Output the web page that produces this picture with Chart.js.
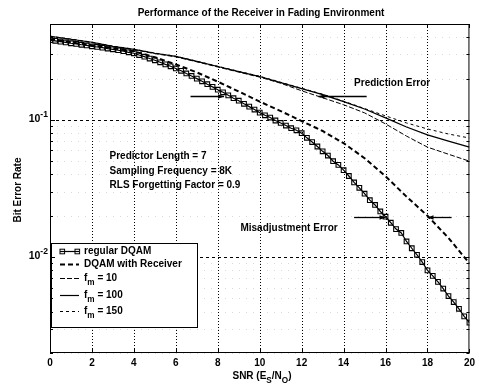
<!DOCTYPE html>
<html>
<head>
<meta charset="utf-8">
<script src="https://cdn.jsdelivr.net/npm/chart.js@4.4.0/dist/chart.umd.min.js"></script>
<style>
  html, body { margin: 0; padding: 0; background: #fff; }
  canvas { display: block; }
</style>
</head>
<body>
<canvas id="berChart" width="479" height="388"></canvas>
<script>
// ── Data ──────────────────────────────────────────────────────
const snrFine = [0, 0.25, 0.5, 0.75, 1, 1.25, 1.5, 1.75, 2, 2.25, 2.5, 2.75, 3, 3.25, 3.5, 3.75,
  4, 4.25, 4.5, 4.75, 5, 5.25, 5.5, 5.75, 6, 6.25, 6.5, 6.75, 7, 7.25, 7.5, 7.75,
  8, 8.25, 8.5, 8.75, 9, 9.25, 9.5, 9.75, 10, 10.25, 10.5, 10.75, 11, 11.25, 11.5, 11.75,
  12, 12.25, 12.5, 12.75, 13, 13.25, 13.5, 13.75, 14, 14.25, 14.5, 14.75, 15, 15.25, 15.5, 15.75,
  16, 16.25, 16.5, 16.75, 17, 17.25, 17.5, 17.75, 18, 18.25, 18.5, 18.75, 19, 19.25, 19.5, 19.75, 20];
const berRegular = [0.381, 0.377, 0.372, 0.367, 0.362, 0.358, 0.353, 0.349, 0.344, 0.340, 0.336, 0.331, 0.327, 0.322, 0.317, 0.311,
  0.306, 0.297, 0.289, 0.280, 0.272, 0.263, 0.254, 0.246, 0.237, 0.228, 0.218, 0.209, 0.200, 0.191, 0.182, 0.174,
  0.166, 0.159, 0.151, 0.144, 0.138, 0.131, 0.125, 0.119, 0.113, 0.108, 0.104, 0.099, 0.095, 0.091, 0.087, 0.084,
  0.080, 0.074, 0.069, 0.064, 0.059, 0.055, 0.050, 0.047, 0.043, 0.039, 0.035, 0.032, 0.029, 0.026, 0.024, 0.0215,
  0.0197, 0.0178, 0.0160, 0.0150, 0.0130, 0.0116, 0.0104, 0.0092, 0.0080, 0.0073, 0.0066, 0.0059, 0.0052, 0.0047, 0.0042, 0.0037, 0.00333];

const snrCoarse = [0, 1, 2, 3, 4, 5, 6, 7, 8, 9, 10, 11, 12, 13, 14, 15, 16, 17, 18, 19, 20];
const berReceiver = [0.387, 0.368, 0.350, 0.333, 0.316, 0.286, 0.254, 0.222, 0.190, 0.161, 0.136,
  0.116, 0.098, 0.083, 0.0677, 0.0526, 0.0388, 0.0276, 0.0200, 0.0138, 0.0090];
const berFm10 = [0.405, 0.385, 0.366, 0.342, 0.325, 0.304, 0.288, 0.265, 0.243, 0.223, 0.205,
  0.185, 0.163, 0.145, 0.129, 0.1125, 0.0935, 0.0762, 0.0633, 0.0562, 0.050];
const berFm100 = [0.407, 0.387, 0.368, 0.344, 0.327, 0.306, 0.290, 0.267, 0.245, 0.225, 0.207,
  0.187, 0.169, 0.153, 0.136, 0.120, 0.1035, 0.0888, 0.0777, 0.0701, 0.0633];
const berFm150 = [0.408, 0.388, 0.369, 0.345, 0.328, 0.307, 0.291, 0.268, 0.246, 0.226, 0.208,
  0.188, 0.170, 0.154, 0.137, 0.121, 0.107, 0.095, 0.0859, 0.0789, 0.0738];

const seriesNames = ['regular DQAM', 'DQAM with Receiver', 'f_{m} = 10', 'f_{m} = 100', 'f_{m} = 150'];
const xTicks = [0, 2, 4, 6, 8, 10, 12, 14, 16, 18, 20];
const yTicks = [0.002, 0.003, 0.004, 0.005, 0.006, 0.007, 0.008, 0.009, 0.01,
  0.02, 0.03, 0.04, 0.05, 0.06, 0.07, 0.08, 0.09, 0.1, 0.2, 0.3, 0.4, 0.5];
const yLabelValues = [0.01, 0.1];
const yLabelTexts = ['10^{-2}', '10^{-1}'];

const titleText = 'Performance of the Receiver in Fading Environment';
const xTitle = 'SNR (E_{S}/N_{O})';
const yTitle = 'Bit Error Rate';
const paramLines = ['Predictor Length = 7', 'Sampling Frequency = 8K', 'RLS Forgetting Factor = 0.9'];

// annotations, in data units
const notes = [
  { text: 'Prediction Error', x: 14.5, y: 0.184 },
  { text: 'Misadjustment Error', x: 9.08, y: 0.0163 },
  { text: paramLines, x: 2.84, y: 0.0543 }
];
const arrows = [
  { from: 6.7, to: 8.3, y: 0.150 },
  { from: 15.1, to: 12.8, y: 0.150 },
  { from: 14.5, to: 16.0, y: 0.0197 },
  { from: 19.15, to: 18.0, y: 0.0197 }
];

// ── Helpers ──────────────────────────────────────────
const FAMILY = '"Liberation Sans", Arial, sans-serif';
function drawRich(ctx, str, x, y, size, align) {
  const parts = [];
  const re = /([_^])\{([^}]*)\}|([^_^]+)/g;
  let m;
  while ((m = re.exec(str))) parts.push(m[3] !== undefined ? { t: m[3], k: '' } : { t: m[2], k: m[1] });
  let w = 0;
  parts.forEach(p => {
    p.s = p.k ? size * 0.82 : size;
    ctx.font = 'bold ' + p.s + 'px ' + FAMILY;
    p.w = ctx.measureText(p.t).width;
    w += p.w;
  });
  let cx = align === 'center' ? x - w / 2 : align === 'right' ? x - w : x;
  ctx.textAlign = 'left';
  ctx.textBaseline = 'middle';
  parts.forEach(p => {
    ctx.font = 'bold ' + p.s + 'px ' + FAMILY;
    const dy = p.k === '_' ? size * 0.5 : p.k === '^' ? -size * 0.4 : 0;
    ctx.fillText(p.t, cx, y + dy);
    cx += p.w;
  });
}
function seg(ctx, x1, y1, x2, y2) {
  ctx.beginPath(); ctx.moveTo(x1, y1); ctx.lineTo(x2, y2); ctx.stroke();
}

// ── MATLAB-style axes, annotations and legend ─────────────────
const matlabPlugin = {
  id: 'matlab',
  beforeDatasetsDraw(chart) {
    const { ctx, chartArea: a, scales: { x, y } } = chart;
    ctx.save();
    ctx.lineWidth = 1;
    ctx.strokeStyle = '#000';
    ctx.setLineDash([1, 2]);
    xTicks.forEach(v => {
      if (v <= 0 || v >= 20) return;
      const px = Math.round(x.getPixelForValue(v)) + 0.5;
      seg(ctx, px, a.top, px, a.bottom);
    });
    yTicks.forEach(v => {
      const py = Math.round(y.getPixelForValue(v)) + 0.5;
      if (yLabelValues.includes(v)) {
        ctx.strokeStyle = '#000'; ctx.setLineDash([3, 3]);
      } else {
        ctx.strokeStyle = 'rgba(0,0,0,0.15)'; ctx.setLineDash([1, 6]);
      }
      seg(ctx, a.left, py, a.right, py);
    });
    ctx.restore();
  },
  afterDraw(chart) {
    const { ctx, chartArea: a, scales: { x, y } } = chart;
    ctx.save();
    ctx.fillStyle = '#000';
    ctx.strokeStyle = '#000';
    ctx.lineWidth = 1;
    ctx.setLineDash([]);

    // annotations
    notes.forEach(n => {
      const px = x.getPixelForValue(n.x), py = y.getPixelForValue(n.y);
      const lines = Array.isArray(n.text) ? n.text : [n.text];
      lines.forEach((t, i) => drawRich(ctx, t, px, py + i * 14.5, 10, 'left'));
    });
    arrows.forEach(ar => {
      const x1 = x.getPixelForValue(ar.from), x2 = x.getPixelForValue(ar.to);
      const py = Math.round(y.getPixelForValue(ar.y)) + 0.5;
      ctx.lineWidth = 1.3;
      seg(ctx, x1, py, x2, py);
      const d = Math.sign(x2 - x1);
      ctx.beginPath();
      ctx.moveTo(x2, py); ctx.lineTo(x2 - d * 6, py - 2.2); ctx.lineTo(x2 - d * 6, py + 2.2);
      ctx.closePath(); ctx.fill();
    });

    // legend
    const L = { left: a.left + 1, top: 243, right: 197, bottom: 327 };
    const rows = [251, 264, 278, 295, 311];
    ctx.fillStyle = '#fff';
    ctx.fillRect(L.left, L.top, L.right - L.left, L.bottom - L.top);
    ctx.lineWidth = 1;
    ctx.strokeStyle = '#000';
    ctx.strokeRect(L.left + 0.5, L.top + 0.5, L.right - L.left, L.bottom - L.top);
    chart.data.datasets.forEach((ds, i) => {
      const ry = rows[i] + 0.5;
      ctx.save();
      ctx.strokeStyle = ds.borderColor;
      ctx.lineWidth = ds.borderWidth;
      ctx.setLineDash(ds.borderDash || []);
      seg(ctx, 60, ry, 79, ry);
      ctx.restore();
      if (ds.pointRadius > 0) {
        ctx.lineWidth = 1;
        [62, 77].forEach(mx => ctx.strokeRect(mx - 2, ry - 2.3, 4.6, 4.6));
      }
      ctx.fillStyle = '#000';
      drawRich(ctx, seriesNames[i], 84, rows[i], 10, 'left');
    });

    // axes box and inward ticks
    ctx.lineWidth = 1;
    ctx.strokeStyle = '#000';
    ctx.strokeRect(a.left + 0.5, a.top + 0.5, a.right - a.left - 1, a.bottom - a.top - 1);
    xTicks.forEach(v => {
      const px = Math.round(x.getPixelForValue(v)) + 0.5;
      seg(ctx, px, a.bottom, px, a.bottom - 4);
      seg(ctx, px, a.top, px, a.top + 4);
    });
    yTicks.forEach(v => {
      const py = Math.round(y.getPixelForValue(v)) + 0.5;
      const len = yLabelValues.includes(v) ? 5 : 3;
      seg(ctx, a.left, py, a.left + len, py);
      seg(ctx, a.right, py, a.right - len, py);
    });

    // tick labels on the log axis
    ctx.fillStyle = '#000';
    yLabelValues.forEach((v, i) => drawRich(ctx, yLabelTexts[i], a.left - 2, y.getPixelForValue(v) - 1, 10.5, 'right'));

    // titles
    drawRich(ctx, titleText, 261, 13, 10, 'center');
    drawRich(ctx, xTitle, 262, 376, 10, 'center');
    ctx.translate(18, 190);
    ctx.rotate(-Math.PI / 2);
    drawRich(ctx, yTitle, 0, 0, 10, 'center');
    ctx.restore();
  }
};

// ── Chart ──────────────────────────────────────────
const pairs = (xs, ys) => xs.map((v, i) => ({ x: v, y: ys[i] }));
new Chart(document.getElementById('berChart').getContext('2d'), {
  type: 'line',
  data: {
    datasets: [
      { label: seriesNames[0], data: pairs(snrFine, berRegular), borderColor: '#000', borderWidth: 1.2,
        pointStyle: 'rect', pointRadius: 3.3, pointBorderWidth: 1.1, pointBorderColor: '#000',
        pointBackgroundColor: 'rgba(0,0,0,0)', tension: 0 },
      { label: seriesNames[1], data: pairs(snrCoarse, berReceiver), borderColor: '#000', borderWidth: 2,
        borderDash: [5, 3], pointRadius: 0, tension: 0 },
      { label: seriesNames[2], data: pairs(snrCoarse, berFm10), borderColor: '#000', borderWidth: 1,
        borderDash: [5, 2], pointRadius: 0, tension: 0 },
      { label: seriesNames[3], data: pairs(snrCoarse, berFm100), borderColor: '#000', borderWidth: 1.2,
        pointRadius: 0, tension: 0 },
      { label: seriesNames[4], data: pairs(snrCoarse, berFm150), borderColor: '#000', borderWidth: 1,
        borderDash: [3, 3], pointRadius: 0, tension: 0 }
    ]
  },
  options: {
    responsive: false, animation: false, devicePixelRatio: 1,
    layout: { padding: { left: 0, top: 24, right: 6, bottom: 0 } },
    plugins: { legend: { display: false }, tooltip: { enabled: false }, title: { display: false } },
    scales: {
      x: {
        type: 'linear', min: 0, max: 20,
        afterBuildTicks: s => { s.ticks = xTicks.map(v => ({ value: v })); },
        afterFit: s => { s.height = 35; },
        ticks: { color: '#000', font: { family: 'Liberation Sans', size: 10, weight: 'bold' }, padding: 4, maxRotation: 0, autoSkip: false },
        grid: { display: false, drawTicks: false },
        border: { display: false }
      },
      y: {
        type: 'logarithmic', min: 0.002, max: 0.5,
        afterBuildTicks: s => { s.ticks = yTicks.map(v => ({ value: v })); },
        afterFit: s => { s.width = 50; },
        ticks: { display: false },
        grid: { display: false, drawTicks: false },
        border: { display: false }
      }
    }
  },
  plugins: [matlabPlugin]
});
</script>
</body>
</html>
